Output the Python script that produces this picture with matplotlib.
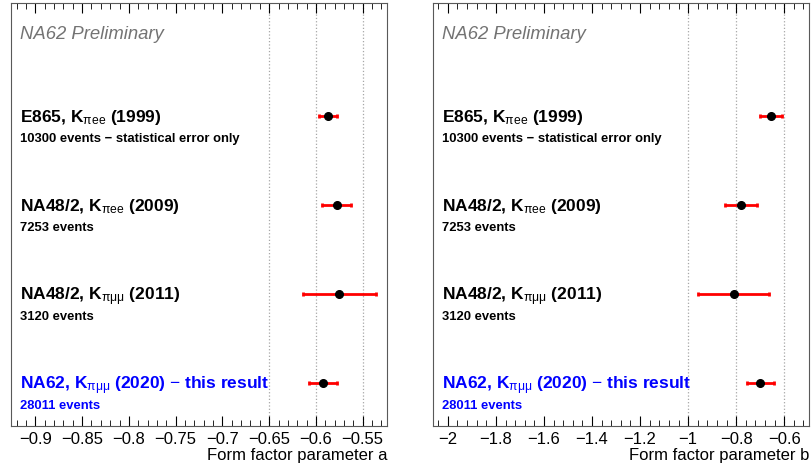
import numpy as np
import matplotlib
matplotlib.use('Agg')
import matplotlib.pyplot as plt
from matplotlib.ticker import MultipleLocator, FuncFormatter
import matplotlib.transforms as mtransforms
from matplotlib import font_manager

plt.rcParams['font.family'] = ['Liberation Sans', 'DejaVu Sans']
plt.rcParams['mathtext.fontset'] = 'custom'
plt.rcParams['mathtext.rm'] = 'Liberation Sans'
plt.rcParams['mathtext.it'] = 'Liberation Sans:italic'
plt.rcParams['mathtext.bf'] = 'Liberation Sans:bold'

print(sorted({f.name for f in font_manager.fontManager.ttflist if 'Liberation' in f.name}))

# measurements, top to bottom
labels = [
    r'E865, K$_{\mathrm{\pi ee}}$ (1999)',
    r'NA48/2, K$_{\mathrm{\pi ee}}$ (2009)',
    r'NA48/2, K$_{\mathrm{\pi\mu\mu}}$ (2011)',
    r'NA62, K$_{\mathrm{\pi\mu\mu}}$ (2020) $-$ this result',
]
sublabels = [
    '10300 events \u2212 statistical error only',
    '7253 events',
    '3120 events',
    '28011 events',
]
text_colors = ['black', 'black', 'black', 'blue']
ypos = [4, 3, 2, 1]

a_val = [-0.587, -0.578, -0.575, -0.592]
a_err = [0.010, 0.016, 0.039, 0.015]
b_val = [-0.655, -0.779, -0.811, -0.699]
b_err = [0.045, 0.066, 0.148, 0.058]

a_grid = [-0.65, -0.60, -0.55]
b_grid = [-1.0, -0.8, -0.6]


def fmt(v, pos):
    return f'{v:g}'.replace('-', '\u2212')


fig = plt.figure(figsize=(8.11, 4.76), dpi=100)
ax1 = fig.add_axes([0.0136, 0.105, 0.4636, 0.8887])
ax2 = fig.add_axes([0.5339, 0.105, 0.4636, 0.8887])

panels = [
    (ax1, a_val, a_err, a_grid, (-0.926, -0.524), 0.05, 0.01, 'Form factor parameter a'),
    (ax2, b_val, b_err, b_grid, (-2.062, -0.497), 0.2, 0.04, 'Form factor parameter b'),
]

for ax, vals, errs, grid, xlim, major, minor, xlabel in panels:
    for g in grid:
        ax.axvline(g, color='0.65', ls=':', lw=0.9, zorder=0)

    ax.errorbar(vals, ypos, xerr=errs, fmt='o', color='black', ms=5.5,
                ecolor='red', elinewidth=2, capsize=1.5, capthick=2, zorder=3)

    trans = mtransforms.blended_transform_factory(ax.transAxes, ax.transData)
    for y, lab, sub, c in zip(ypos, labels, sublabels, text_colors):
        ax.text(0.024, y - 0.07, lab, transform=trans, fontsize=12.5,
                fontweight='bold', color=c, va='baseline', ha='left')
        ax.text(0.024, y - 0.295, sub, transform=trans, fontsize=9.4,
                fontweight='bold', color=c, va='baseline', ha='left')

    ax.text(0.024, 0.925, 'NA62 Preliminary', transform=ax.transAxes,
            fontsize=13.3, style='italic', color='0.45', va='center', ha='left')

    ax.set_xlim(*xlim)
    ax.set_ylim(0.517, 5.27)
    ax.set_yticks([])
    ax.xaxis.set_major_locator(MultipleLocator(major))
    ax.xaxis.set_minor_locator(MultipleLocator(minor))
    ax.xaxis.set_major_formatter(FuncFormatter(fmt))
    ax.tick_params(axis='x', which='both', direction='in', top=True,
                   labelsize=12, pad=4)
    ax.tick_params(axis='x', which='major', length=7)
    ax.tick_params(axis='x', which='minor', length=4)
    ax.set_xlabel(xlabel, loc='right', fontsize=12, labelpad=1)
    for sp in ax.spines.values():
        sp.set_color('0.35')

fig.savefig('out.png', dpi=100)
